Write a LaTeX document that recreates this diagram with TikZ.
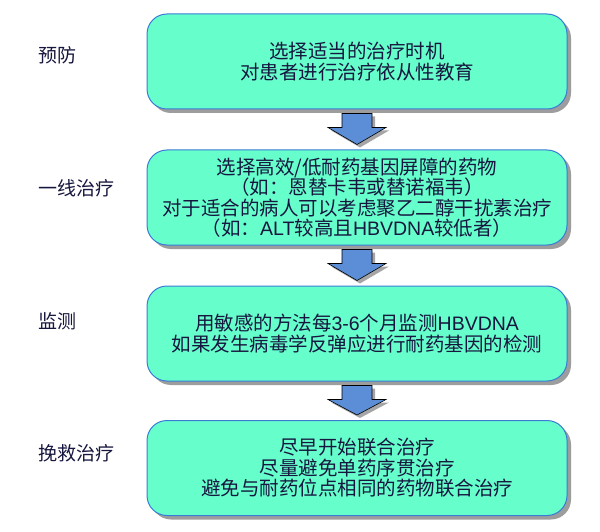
\documentclass[tikz,border=0pt]{standalone}
\usepackage{fontspec}
\setmainfont{Noto Sans CJK SC}
\newfontfamily\latinsans{Liberation Sans}
\usepackage{tikz}
\usetikzlibrary{calc,shadows}
\definecolor{boxfill}{HTML}{66FFCC}
\definecolor{boxline}{HTML}{3A7BD5}
\definecolor{arrowfill}{HTML}{5B8ED6}
\definecolor{textnavy}{HTML}{16163E}
\tikzstyle{flow}=[
  x=1pt,y=-1pt,font=\small
]
\tikzstyle{stagebox}=[
  draw=boxline,fill=boxfill,line width=1pt,rounded corners=20pt,
  minimum width=420pt,minimum height=95pt,align=center,text=textnavy,
  font=\fontsize{19.5}{20.5}\selectfont,
  drop shadow={shadow xshift=4pt,shadow yshift=-4pt,fill=black!70,opacity=0.55}
]
\tikzstyle{stagelabel}=[
  anchor=west,inner sep=0pt,text=textnavy,font=\fontsize{19}{20}\selectfont
]
\tikzstyle{blockarrow}=[
  draw=black,line width=0.6pt,fill=arrowfill,
  drop shadow={shadow xshift=3pt,shadow yshift=-3pt,fill=black!70,opacity=0.5}
]
\newcommand{\lat}[1]{{\latinsans #1}}

\begin{document}
\begin{tikzpicture}[flow]
        \useasboundingbox (0,0) rectangle (600,532);
        \node (b1) at (357, 61.5) [stagebox] {选择适当的治疗时机\\对患者进行治疗依从性教育};
        \node (b2) at (357, 197.5) [stagebox] {选择高效/低耐药基因屏障的药物\\（如：恩替卡韦或替诺福韦）\\对于适合的病人可以考虑聚乙二醇干扰素治疗\\（如：\lat{ALT}较高且\lat{HBVDNA}较低者）};
        \node (b3) at (357, 333.5) [stagebox] {用敏感的方法每\lat{3-6}个月监测\lat{HBVDNA}\\如果发生病毒学反弹应进行耐药基因的检测};
        \node (b4) at (357, 468) [stagebox] {尽早开始联合治疗\\尽量避免单药序贯治疗\\避免与耐药位点相同的药物联合治疗};

        \node (l1) at (38, 55) [stagelabel] {预防};
        \node (l2) at (38, 188) [stagelabel] {一线治疗};
        \node (l3) at (38, 321) [stagelabel] {监测};
        \node (l4) at (38, 453) [stagelabel] {挽救治疗};

        % block arrows between the stages
        \foreach \a/\b in {b1/b2, b2/b3, b3/b4}
          \draw [blockarrow] ($(\a.south)+(-15,4)$) -- ($(\a.south)+(15,4)$) -- ($(\a.south)+(15,18)$)
            -- ($(\a.south)+(29,18)$) -- ($(\b.north)+(0,-5)$) -- ($(\a.south)+(-29,18)$)
            -- ($(\a.south)+(-15,18)$) -- cycle;
\end{tikzpicture}
\end{document}
